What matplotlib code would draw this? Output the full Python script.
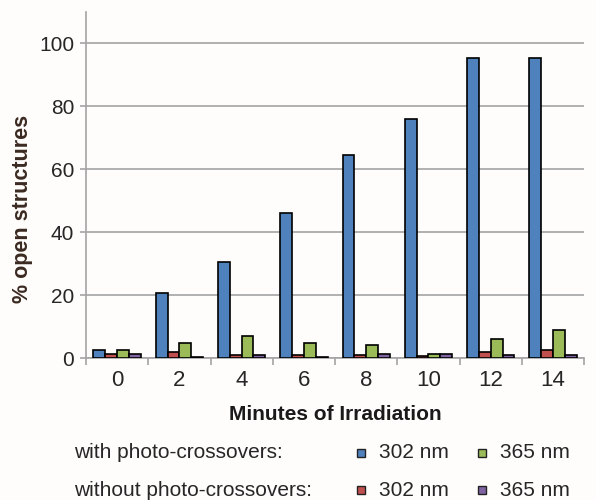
import matplotlib.pyplot as plt
import matplotlib.patches as mpatches
import numpy as np

plt.rcParams['font.family'] = ['Liberation Sans', 'DejaVu Sans']

minutes = ['0', '2', '4', '6', '8', '10', '12', '14']
with_302 = [2.5, 20.7, 30.5, 46.0, 64.5, 76.0, 95.5, 95.3]
without_302 = [1.3, 1.8, 0.9, 1.0, 0.8, 0.5, 1.9, 2.4]
with_365 = [2.4, 4.8, 7.1, 4.9, 4.2, 1.3, 6.1, 8.8]
without_365 = [1.4, 0.2, 1.0, 0.4, 1.2, 1.3, 1.0, 1.0]

series = [with_302, without_302, with_365, without_365]
colors = ['#4F81BD', '#C0504D', '#9BBB59', '#8064A2']
txt = '#262626'

fig = plt.figure(figsize=(5.96, 5.0), dpi=100, facecolor='#fffdfb')
ax = fig.add_axes([0.1443, 0.284, 0.8357, 0.692], facecolor='#fffdfb')

x = np.arange(len(minutes))
w = 0.19
for i, (vals, c) in enumerate(zip(series, colors)):
    ax.bar(x + (i - 1.5) * w, vals, w, color=c, edgecolor='black', linewidth=1.2, zorder=3)

ax.set_xlim(-0.5, len(minutes) - 0.5)
ax.set_ylim(0, 110)
ax.set_yticks([0, 20, 40, 60, 80, 100])
ax.yaxis.grid(True, color='#a4a4a4', linewidth=1.2, zorder=0)
ax.set_xticks(x)
ax.set_xticklabels(minutes)
ax.set_xticks(np.arange(len(minutes) + 1) - 0.5, minor=True)
ax.tick_params(axis='x', which='major', length=0, pad=9, labelsize=16, labelcolor=txt)
ax.tick_params(axis='x', which='minor', length=5, color='#a4a4a4', width=1.2)
ax.tick_params(axis='y', length=4.5, color='#a4a4a4', width=1.2, labelsize=15, labelcolor=txt, pad=4)

for s in ['top', 'right']:
    ax.spines[s].set_visible(False)
for s in ['left', 'bottom']:
    ax.spines[s].set_color('#a4a4a4')
    ax.spines[s].set_linewidth(1.2)

ax.set_ylabel('% open structures', fontsize=15.5, fontweight='bold', color='#3b2a22')
ax.yaxis.set_label_coords(-0.106, 0.43)
ax.set_xlabel('Minutes of Irradiation', fontsize=15, fontweight='bold', color='#1a1a1a', labelpad=10)

# legend rows
rows = [('with photo-crossovers:', [(colors[0], '302 nm'), (colors[2], '365 nm')], 1 - 453 / 500),
        ('without photo-crossovers:', [(colors[1], '302 nm'), (colors[3], '365 nm')], 1 - 490 / 500)]
for label, entries, yy in rows:
    fig.text(74 / 596, yy, label, fontsize=15, color=txt, va='center')
    for (c, t), xs in zip(entries, [357, 478]):
        fig.patches.append(mpatches.Rectangle((xs / 596, yy - 4 / 500), 8 / 596, 8 / 500,
                                              transform=fig.transFigure, facecolor=c,
                                              edgecolor='#222222', linewidth=1))
        fig.text((xs + 22) / 596, yy, t, fontsize=15, color=txt, va='center')

fig.savefig('out.png', dpi=100, facecolor=fig.get_facecolor())
